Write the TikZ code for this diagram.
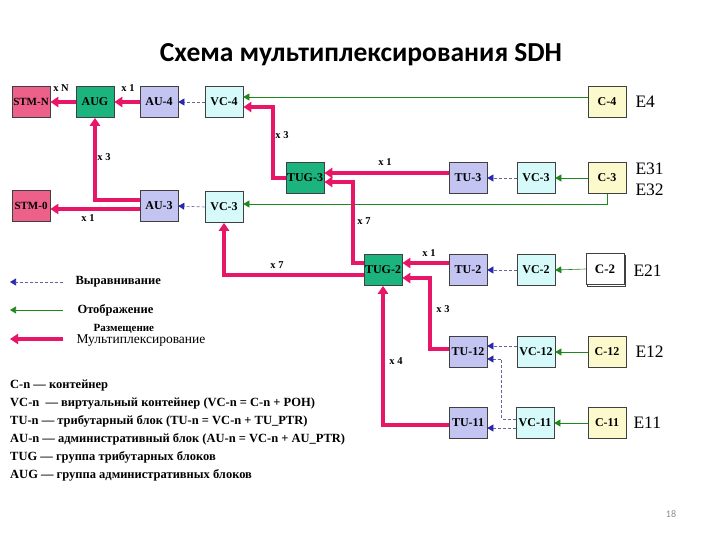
\documentclass[tikz,border=0pt]{standalone}
\usepackage{fontspec}
\setmainfont{Liberation Serif}
\newfontfamily\titlefont{Carlito}
\usetikzlibrary{arrows.meta,shadows}

\definecolor{muxred}{RGB}{232,22,104}
\definecolor{stmpink}{RGB}{236,96,138}
\definecolor{grpgreen}{RGB}{28,180,126}
\definecolor{unitblue}{RGB}{196,196,242}
\definecolor{vccyan}{RGB}{214,250,250}
\definecolor{cyellow}{RGB}{252,250,204}
\definecolor{alignblue}{RGB}{40,40,175}
\definecolor{aligndash}{RGB}{100,100,150}
\definecolor{mapgreen}{RGB}{30,135,30}

\tikzset{
  blk/.style={draw=black!75,line width=.6pt,minimum width=38pt,minimum height=31pt,
    inner sep=0pt,font=\fontsize{12}{13}\selectfont\bfseries},
  stmbox/.style={blk,fill=stmpink,font=\fontsize{11}{12}\selectfont\bfseries},
  grpbox/.style={blk,fill=grpgreen},
  unitbox/.style={blk,fill=unitblue},
  vcbox/.style={blk,fill=vccyan},
  cbox/.style={blk,fill=cyellow},
  muxline/.style={muxred,line width=3.6pt,-{Triangle[length=8pt,width=10pt]}},
  alignline/.style={aligndash,line width=.6pt,dash pattern=on 3pt off 2pt,
    -{Triangle[length=6pt,width=7pt,color=alignblue]}},
  mapline/.style={mapgreen,line width=.6pt,-{Triangle[length=6pt,width=7pt,color=mapgreen]}},
  mult/.style={font=\fontsize{10.5}{11}\selectfont\bfseries},
  elabel/.style={anchor=west,font=\fontsize{17.5}{19}\selectfont},
}

\begin{document}
\begin{tikzpicture}[x=1pt,y=-1pt]
  \useasboundingbox (0,0) rectangle (720,540);
  \node[font=\titlefont\fontsize{27.5}{31}\selectfont\bfseries] (title) at (361,55) {Схема мультиплексирования SDH};

  % blocks
  \node[stmbox] (stmN) at (31,102) {STM-N};
  \node[grpbox] (aug) at (95,102) {AUG};
  \node[unitbox] (au4) at (159,102) {AU-4};
  \node[vcbox] (vc4) at (224,102) {VC-4};
  \node[cbox] (c4) at (607,102) {C-4};
  \node[stmbox] (stm0) at (31,206) {STM-0};
  \node[unitbox] (au3) at (159,206) {AU-3};
  \node[vcbox] (vcL) at (224,207) {VC-3};
  \node[grpbox] (tug3) at (305,178) {TUG-3};
  \node[unitbox] (tu3) at (468,178) {TU-3};
  \node[vcbox] (vc3) at (536,178) {VC-3};
  \node[cbox] (c3) at (607,178) {C-3};
  \node[grpbox] (tug2) at (383,270) {TUG-2};
  \node[unitbox] (tu2) at (468,270) {TU-2};
  \node[vcbox] (vc2) at (536,270) {VC-2};
  \node[blk,fill=white,font=\fontsize{13}{14}\selectfont\bfseries,
    copy shadow={shadow xshift=1.5pt,shadow yshift=-1.5pt}] (c2) at (605,269) {C-2};
  \node[unitbox] (tu12) at (468,352) {TU-12};
  \node[vcbox] (vc12) at (536,352) {VC-12};
  \node[cbox] (c12) at (607,352) {C-12};
  \node[unitbox] (tu11) at (468,423) {TU-11};
  \node[vcbox] (vc11) at (535,423) {VC-11};
  \node[cbox] (c11) at (607,423) {C-11};

  % signals
  \node[elabel] (e4) at (632,102) {E4};
  \node[elabel] (e31) at (632,169) {E31};
  \node[elabel] (e32) at (632,190) {E32};
  \node[elabel] (e21) at (630,271) {E21};
  \node[elabel] (e12) at (632,352) {E12};
  \node[elabel] (e11) at (630,423) {E11};

  % mapping
  \draw[mapline] ([yshift=5pt]c4.west) -- ([yshift=5pt]vc4.east);
  \draw[mapline] (c3.south) |- ([yshift=3pt]vcL.east);
  \draw[mapline] (c3.west) -- (vc3.east);
  \draw[mapline] (c2.west) -- (vc2.east);
  \draw[mapline] (c12.west) -- (vc12.east);
  \draw[mapline] (c11.west) -- (vc11.east);

  % aligning
  \draw[alignline] (vc4.west) -- (au4.east);
  \draw[alignline] (vcL.west) -- (au3.east);
  \draw[alignline] (vc3.west) -- (tu3.east);
  \draw[alignline] (vc2.west) -- (tu2.east);
  \draw[alignline] ([yshift=6pt]vc12.west) -- ([yshift=6pt]tu12.east);
  \draw[alignline] ([yshift=4pt]vc11.west) -- ++(-14,0) |- ([yshift=-7pt]tu12.east);
  \draw[alignline] ([yshift=-5pt]vc11.west) -- ([yshift=-5pt]tu11.east);

  % multiplexing
  \draw[muxline] (aug.west) -- (stmN.east);
  \draw[muxline] (au4.west) -- (aug.east);
  \draw[muxline] ([yshift=6pt]au3.west) -| (aug.south);
  \draw[muxline] ([yshift=-3pt]au3.west) -- ([yshift=-3pt]stm0.east);
  \draw[muxline] (tug3.west) -- ++(-13,0) |- ([yshift=-5pt]vc4.east);
  \draw[muxline] ([yshift=5pt]tu3.west) -- ([yshift=5pt]tug3.east);
  \draw[muxline] ([yshift=7pt]tug2.west) -- ++(-11,0) |- ([yshift=-4pt]tug3.east);
  \draw[muxline] ([yshift=-5pt]tug2.west) -| (vcL.south);
  \draw[muxline] ([yshift=7pt]tu2.west) -- ([yshift=7pt]tug2.east);
  \draw[muxline] ([yshift=3pt]tu12.west) -- ++(-19,0) |- ([yshift=-8pt]tug2.east);
  \draw[muxline] ([yshift=-2pt]tu11.west) -| (tug2.south);

  % multiplicities
  \node[mult] at (61,88) {x N};
  \node[mult] at (128,88) {x 1};
  \node[mult] at (104,157) {x 3};
  \node[mult] at (88,218) {x 1};
  \node[mult] at (282,135) {x 3};
  \node[mult] at (385,162) {x 1};
  \node[mult] at (364,221) {x 7};
  \node[mult] at (277,265) {x 7};
  \node[mult] at (429,253) {x 1};
  \node[mult] at (443,309) {x 3};
  \node[mult] at (396,361) {x 4};

  % legend
  \node[anchor=west,font=\fontsize{12.5}{14}\selectfont\bfseries] (lgalign) at (72,282) {Выравнивание};
  \node[anchor=west,font=\fontsize{12.5}{14}\selectfont\bfseries] (lgmap) at (74,310) {Отображение};
  \node[anchor=west,font=\fontsize{11}{12}\selectfont\bfseries] (lgplace) at (90,329) {Размещение};
  \node[anchor=west,font=\fontsize{13.5}{15}\selectfont] (lgmux) at (73,341) {Мультиплексирование};
  \draw[alignline] ([xshift=-9pt]lgalign.west) -- ++(-53,0);
  \draw[mapline] ([xshift=-11pt]lgmap.west) -- ++(-53,0);
  \draw[muxline] ([xshift=-10pt,yshift=2pt]lgmux.west) -- ++(-53,0);

  \node[anchor=north west,align=left,inner sep=0pt,font=\fontsize{12.5}{18}\selectfont\bfseries] (terms) at (10,380)
    {C-n — контейнер\\
     VC-n \ — виртуальный контейнер (VC-n = C-n + POH)\\
     TU-n — трибутарный блок (TU-n = VC-n + TU\_PTR)\\
     AU-n — административный блок (AU-n = VC-n + AU\_PTR)\\
     TUG — группа трибутарных блоков\\
     AUG — группа административных блоков};

  \node[font=\titlefont\fontsize{10}{12}\selectfont,text=black!45] (page) at (671,514) {18};
\end{tikzpicture}
\end{document}
